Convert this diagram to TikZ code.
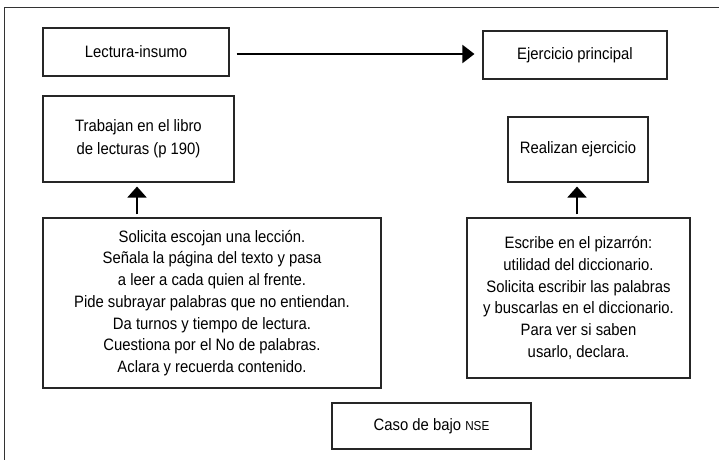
\documentclass[tikz,border=0pt]{standalone}
\usepackage{fontspec}
\setmainfont{Liberation Sans}[FakeStretch=0.9]
\usetikzlibrary{arrows.meta}
\begin{document}
\begin{tikzpicture}[x=1pt,y=-1pt,
  box/.style={draw=black!85,line width=1.1pt,align=center,inner sep=0pt,
    font=\fontsize{16.5}{21.7}\selectfont},
  arr/.style={line width=2pt,-{Triangle[length=12pt,width=18pt]}},
  uparr/.style={line width=2pt,-{Triangle[length=11pt,width=19pt]}}]
\useasboundingbox (0,0) rectangle (719,460);
\draw[line width=1.1pt,black!80] (719,7.5) -- (4.5,7.5) -- (4.5,460);
\node[box,minimum width=186pt,minimum height=48pt] (lect) at (136,52) {Lectura-insumo};
\node[box,minimum width=184pt,minimum height=48pt] (ejer) at (575,55) {Ejercicio principal};
\node[box,minimum width=191pt,minimum height=86pt,font=\fontsize{16.5}{23}\selectfont] (trab) at (138.5,139) {Trabajan en el libro\\de lecturas (p 190)};
\node[box,minimum width=140pt,minimum height=65pt] (real) at (578,149.5) {Realizan ejercicio};
\node[box,minimum width=338pt,minimum height=170pt] (soli) at (212,303) {Solicita escojan una lección.\\Señala la página del texto y pasa\\a leer a cada quien al frente.\\Pide subrayar palabras que no entiendan.\\Da turnos y tiempo de lectura.\\Cuestiona por el No de palabras.\\Aclara y recuerda contenido.};
\node[box,minimum width=223pt,minimum height=160pt] (escr) at (578.5,298) {Escribe en el pizarrón:\\utilidad del diccionario.\\Solicita escribir las palabras\\y buscarlas en el diccionario.\\Para ver si saben\\usarlo, declara.};
\node[box,minimum width=199pt,minimum height=46pt] (caso) at (431.5,426) {Caso de bajo {\fontsize{13}{15}\selectfont NSE}};
\draw[arr] ([shift={(7,2)}]lect.east) -- ([shift={(-8,-1)}]ejer.west);
\draw[uparr,shorten <=3pt,shorten >=4pt] ([xshift=-1.5]trab.south |- soli.north) -- ([xshift=-1.5]trab.south);
\draw[uparr,shorten <=3pt,shorten >=4pt] ([xshift=-1]real.south |- escr.north) -- ([xshift=-1]real.south);
\end{tikzpicture}
\end{document}
